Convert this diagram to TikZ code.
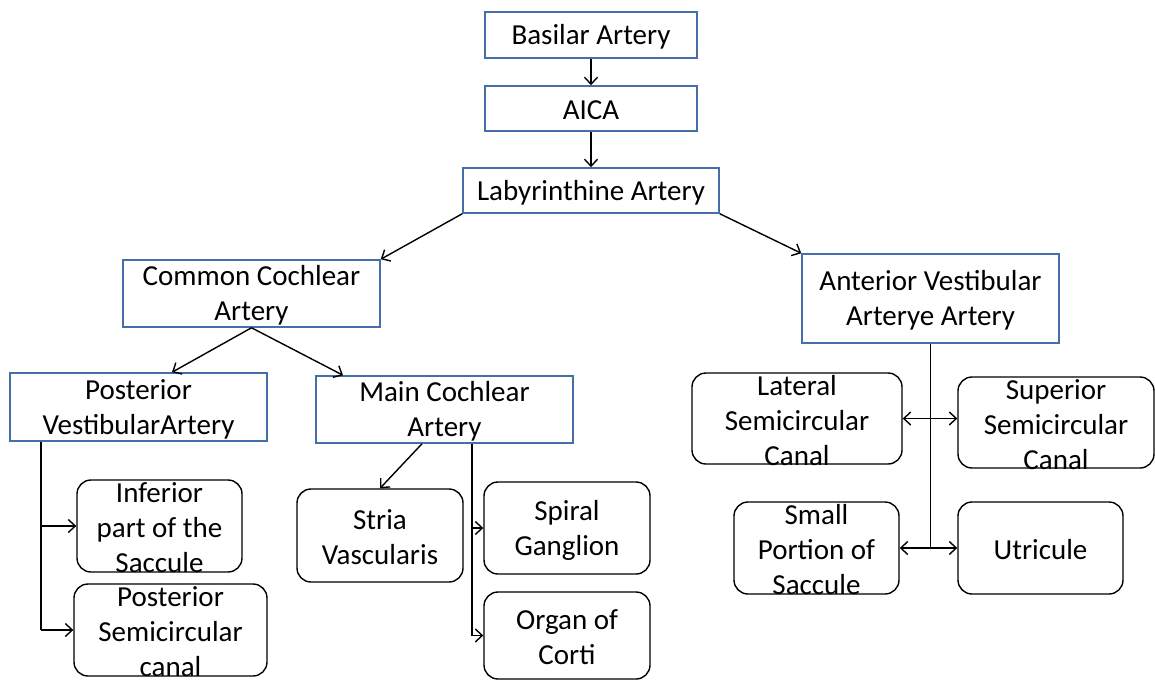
\documentclass[tikz,border=0pt]{standalone}
\usepackage{fontspec}
\setmainfont{Carlito}
\usetikzlibrary{arrows.meta}
\definecolor{boxblue}{RGB}{70,110,170}
\newcommand{\mkbox}[7]{%
  \node[#1, minimum width=#5pt, minimum height=#6pt] (#2) at (#3,#4) {};
  \node[lbl] (#2-t) at ([yshift=-2pt]#2.center) {#7};}
\begin{document}
\begin{tikzpicture}[x=1pt, y=-1pt,
  abox/.style={draw=boxblue, line width=1.5pt, rectangle, inner sep=0pt},
  rbox/.style={draw=black, line width=1.4pt, rectangle, rounded corners=14pt, inner sep=0pt},
  lbl/.style={font=\fontsize{29}{35}\selectfont, align=center, inner sep=0pt},
  conn/.style={draw=black, line width=1.4pt},
  arr/.style={conn, -{Straight Barb[length=7pt,width=13pt]}},
  darr/.style={conn, {Straight Barb[length=7pt,width=13pt]}-{Straight Barb[length=7pt,width=13pt]}}]
\useasboundingbox (0,0) rectangle (1155,680);
% arteries
\mkbox{abox}{bas}{591}{35}{212}{46}{Basilar Artery}
\mkbox{abox}{aica}{591}{108.5}{212}{45}{AICA}
\mkbox{abox}{lab}{591}{190.5}{256}{45}{Labyrinthine Artery}
\mkbox{abox}{cc}{251.5}{293.5}{257}{67}{Common Cochlear\\Artery}
\mkbox{abox}{av}{930.5}{298.5}{257}{89}{Anterior Vestibular\\Arterye Artery}
\mkbox{abox}{pv}{138.5}{407}{257}{68}{Posterior\\VestibularArtery}
\mkbox{abox}{mc}{444.5}{409.5}{257}{67}{Main Cochlear\\Artery}
% structures
\mkbox{rbox}{inf}{159.5}{526}{165}{92}{Inferior\\part of the\\Saccule}
\mkbox{rbox}{psc}{170.5}{630}{193}{92}{Posterior\\Semicircular\\canal}
\mkbox{rbox}{sv}{380}{535.5}{166}{93}{Stria\\Vascularis}
\mkbox{rbox}{sg}{567}{528}{166}{92}{Spiral\\Ganglion}
\mkbox{rbox}{oc}{567}{635.5}{166}{87}{Organ of\\Corti}
\mkbox{rbox}{lat}{797}{418.5}{210}{91}{Lateral\\Semicircular\\Canal}
\mkbox{rbox}{sup}{1056}{422.5}{196}{91}{Superior\\Semicircular\\Canal}
\mkbox{rbox}{sp}{816.5}{548}{165}{92}{Small\\Portion of\\Saccule}
\mkbox{rbox}{ut}{1040.5}{548}{165}{92}{Utricule}
% connectors
\draw[arr] (bas.south) -- (aica.north);
\draw[arr] (aica.south) -- (lab.north);
\draw[arr] (lab.south west) -- (cc.north east);
\draw[arr] (lab.south east) -- (av.north west);
\draw[arr] (cc.south) -- ([xshift=33.5pt]pv.north);
\draw[arr] (cc.south) -- ([xshift=-101.5pt]mc.north);
% posterior vestibular branches
\coordinate (pvb) at ([xshift=-97.5pt]pv.south);
\draw[conn] (pvb) -- (pvb |- psc.west);
\draw[arr] (pvb |- inf.west) -- (inf.west);
\draw[arr] (pvb |- psc.west) -- (psc.west);
% main cochlear branches
\draw[arr] ([xshift=-22.5pt]mc.south) -- (sv.north);
\coordinate (mcb) at ([xshift=27.5pt]mc.south);
\draw[conn] (mcb) -- (mcb |- oc.west);
\draw[arr] (mcb |- sg.west) -- (sg.west);
\draw[arr] (mcb |- oc.west) -- (oc.west);
% anterior vestibular branches
\coordinate (avb) at (av.south);
\draw[conn] (avb) -- (avb |- sp.east);
\draw[darr] (lat.east) -- (lat.east -| sup.west);
\draw[darr] (sp.east) -- (ut.west);
\end{tikzpicture}
\end{document}
